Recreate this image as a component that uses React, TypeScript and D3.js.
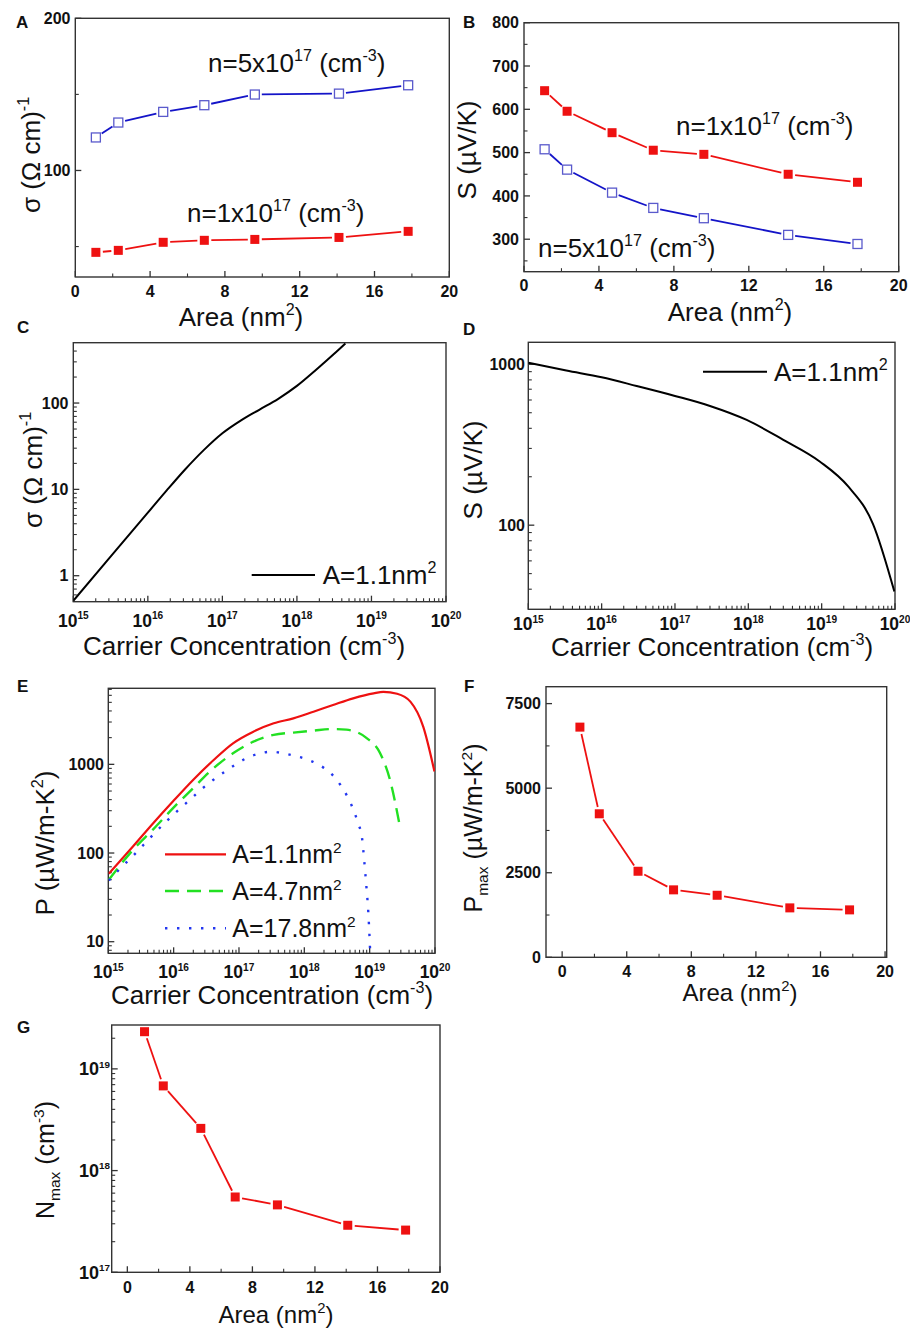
import React from "react";
import * as d3 from "d3";

// ---------- data ----------
const areas = [1.1, 2.3, 4.7, 6.9, 9.6, 14.1, 17.8];

// conductivity vs area (panel A)
const sigmaHigh = [121.7, 131.5, 138.5, 142.9, 149.9, 150.5, 156];
const sigmaLow = [46.2, 47.5, 52.8, 54.1, 54.7, 56, 60];

// Seebeck vs area (panel B)
const seebeckLow = [643, 595.5, 546, 505.5, 496, 450, 431.5];
const seebeckHigh = [507.7, 460.7, 407.6, 372.3, 348.5, 310, 289];

// conductivity vs carrier concentration, A = 1.1 nm^2 (panel C)
const sigmaCurve: [number, number][] = [
  [1e15, 0.513], [3.16e15, 1.66], [1e16, 5.37], [1.78e16, 9.66],
  [3.16e16, 17.0], [5.62e16, 28.5], [1e17, 44.7], [1.78e17, 63.1],
  [3.16e17, 84.1], [5.62e17, 112], [1e18, 158], [1.78e18, 240],
  [3.16e18, 372], [4.47e18, 490],
];

// Seebeck vs carrier concentration, A = 1.1 nm^2 (panel D)
const seebeckCurve: [number, number][] = [
  [1e15, 1023], [3.3e15, 914], [1e16, 830], [3e16, 733], [1e17, 636],
  [3e17, 551], [9.5e17, 451], [3e18, 339], [9.5e18, 248], [2.3e19, 174],
  [5e19, 102], [9.8e19, 38.7],
];

// power factor vs carrier concentration (panel E)
const powerA11: [number, number][] = [
  [1.02e15, 58.5], [2.4e15, 119], [4.9e15, 218], [9.8e15, 383], [2e16, 671],
  [4.1e16, 1120], [8.1e16, 1726], [1.66e17, 2336], [3.4e17, 2900],
  [6.8e17, 3300], [1.38e18, 3925], [2.75e18, 4667], [5.6e18, 5546],
  [1.15e19, 6310], [1.62e19, 6550], [2.63e19, 6250], [4.2e19, 5090],
  [6.6e19, 2660], [9.8e19, 832],
];
const powerA47: [number, number][] = [
  [1.02e15, 50], [2.4e15, 109], [4.9e15, 186], [9.8e15, 321], [2e16, 541],
  [4.1e16, 907], [8.1e16, 1330], [1.66e17, 1800], [3.4e17, 2150],
  [6.8e17, 2280], [1.38e18, 2400], [2.75e18, 2500], [4.4e18, 2460],
  [8.9e18, 1990], [1.44e19, 1340], [2.04e19, 674], [2.9e19, 200],
];
const powerA178: [number, number][] = [
  [1.02e15, 49], [1.51e15, 66.5], [2.29e15, 90], [3.47e15, 124], [5.13e15, 168],
  [7.76e15, 228], [1.17e16, 303], [1.78e16, 400], [2.69e16, 527],
  [4.07e16, 671], [6.17e16, 832], [9.12e16, 1009], [1.38e17, 1200],
  [2.09e17, 1331], [3.16e17, 1390], [4.79e17, 1331], [7.24e17, 1242],
  [1.1e18, 1138], [1.62e18, 1000], [2.45e18, 812], [3.55e18, 588],
  [4.68e18, 417], [5.62e18, 309], [6.76e18, 209], [7.59e18, 154],
  [8.32e18, 77], [8.91e18, 42], [9.55e18, 21], [1.0e19, 10.5], [1.02e19, 7.4],
];

// maximum power factor and optimal concentration vs area (panels F, G)
const powerMax = [6805, 4243, 2544, 1994, 1834, 1461, 1402];
const concMax = [2.32e19, 6.8e18, 2.6e18, 5.5e17, 4.6e17, 2.9e17, 2.6e17];

// tick values
const areaMajor = [0, 4, 8, 12, 16, 20];
const areaMinor = [2, 6, 10, 14, 18];
const decades = [1e15, 1e16, 1e17, 1e18, 1e19, 1e20];

// ---------- styling ----------
const FONT = "'Liberation Sans', Arial, Helvetica, sans-serif";
const AXIS = "#333";
const RED = "#ee1111";
const BLUE = "#1414c8";
const BLUE_MK = "#5a5acc";
const GREEN = "#22e022";
const DOT_BLUE = "#2236f0";

type Seg = { t: string; sup?: boolean; sub?: boolean };

function Rich(props: {
  x: number; y: number; segs: Seg[]; size: number; anchor?: string;
  weight?: string | number; rotate?: number; supScale?: number; fill?: string;
}) {
  const { x, y, segs, size, anchor = "start", weight = "normal", rotate, supScale = 0.62, fill = "#111" } = props;
  let shift = 0;
  const kids = segs.map((s, i) => {
    const target = s.sup ? -size * 0.42 : s.sub ? size * 0.22 : 0;
    const dy = target - shift;
    shift = target;
    return (
      <tspan key={i} dy={dy} fontSize={s.sup || s.sub ? size * supScale : size}>
        {s.t}
      </tspan>
    );
  });
  return (
    <text
      x={x}
      y={y}
      textAnchor={anchor as any}
      fontWeight={weight}
      fontSize={size}
      fontFamily={FONT}
      fill={fill}
      style={{ whiteSpace: "pre" }}
      transform={rotate ? `rotate(${rotate} ${x} ${y})` : undefined}
    >
      {kids}
    </text>
  );
}

const expLabel = (v: number): Seg[] => [{ t: "10" }, { t: String(Math.round(Math.log10(v))), sup: true }];
const numLabel = (v: number): Seg[] => [{ t: String(v) }];

function logMinors(lo: number, hi: number) {
  const out: number[] = [];
  for (let e = Math.floor(Math.log10(lo)); e <= Math.ceil(Math.log10(hi)); e++) {
    for (let k = 2; k <= 9; k++) {
      const v = k * Math.pow(10, e);
      if (v > lo * 1.0001 && v < hi * 0.9999) out.push(v);
    }
  }
  return out;
}

type Scale = (v: number) => number;

function Frame(props: {
  x: Scale; y: Scale;
  box: [number, number, number, number]; // x0, x1, y0, y1
  xMajor: number[]; xMinor: number[]; xLabel: (v: number) => Seg[]; xLabelY: number; xSize?: number;
  yMajor: number[]; yMinor: number[]; yLabel: (v: number) => Seg[]; yLabelX: number; ySize?: number;
}) {
  const { x, y, box, xMajor, xMinor, xLabel, xLabelY, yMajor, yMinor, yLabel, yLabelX } = props;
  const xSize = props.xSize ?? 16;
  const ySize = props.ySize ?? 16;
  const [x0, x1, y0, y1] = box;
  return (
    <g>
      <rect x={x0} y={y0} width={x1 - x0} height={y1 - y0} fill="none" stroke={AXIS} strokeWidth={1.4} />
      {xMajor.map((v, i) => (
        <line key={"xM" + i} x1={x(v)} x2={x(v)} y1={y1} y2={y1 - 6} stroke={AXIS} strokeWidth={1.3} />
      ))}
      {xMinor.map((v, i) => (
        <line key={"xm" + i} x1={x(v)} x2={x(v)} y1={y1} y2={y1 - 3.5} stroke={AXIS} strokeWidth={1.1} />
      ))}
      {yMajor.map((v, i) => (
        <line key={"yM" + i} x1={x0} x2={x0 + 6} y1={y(v)} y2={y(v)} stroke={AXIS} strokeWidth={1.3} />
      ))}
      {yMinor.map((v, i) => (
        <line key={"ym" + i} x1={x0} x2={x0 + 3.5} y1={y(v)} y2={y(v)} stroke={AXIS} strokeWidth={1.1} />
      ))}
      {xMajor.map((v, i) => (
        <Rich key={"xl" + i} x={x(v)} y={xLabelY} segs={xLabel(v)} size={xSize} weight="bold" anchor="middle" supScale={0.58} />
      ))}
      {yMajor.map((v, i) => (
        <Rich key={"yl" + i} x={yLabelX} y={y(v) + ySize * 0.35} segs={yLabel(v)} size={ySize} weight="bold" anchor="end" supScale={0.55} />
      ))}
    </g>
  );
}

function gapped(pts: [number, number][], gap: number) {
  const segs: [number, number, number, number][] = [];
  for (let i = 1; i < pts.length; i++) {
    const a = pts[i - 1], b = pts[i];
    const dx = b[0] - a[0], dy = b[1] - a[1];
    const L = Math.hypot(dx, dy);
    if (L <= 2 * gap) continue;
    const ux = dx / L, uy = dy / L;
    segs.push([a[0] + ux * gap, a[1] + uy * gap, b[0] - ux * gap, b[1] - uy * gap]);
  }
  return segs;
}

function MarkerSeries(props: { x: Scale; y: Scale; xs: number[]; ys: number[]; color: string; hollow?: boolean }) {
  const { x, y, xs, ys, color, hollow } = props;
  const pts = xs.map((v, i) => [x(v), y(ys[i])] as [number, number]);
  const s = 9;
  return (
    <g>
      {gapped(pts, 7).map((g, i) => (
        <line key={i} x1={g[0]} y1={g[1]} x2={g[2]} y2={g[3]} stroke={color} strokeWidth={1.8} />
      ))}
      {pts.map((p, i) =>
        hollow ? (
          <rect key={"m" + i} x={p[0] - s / 2} y={p[1] - s / 2} width={s} height={s} fill="#fff" stroke={BLUE_MK} strokeWidth={1.3} />
        ) : (
          <rect key={"m" + i} x={p[0] - s / 2} y={p[1] - s / 2} width={s} height={s} fill={color} />
        )
      )}
    </g>
  );
}

function Curve(props: { x: Scale; y: Scale; data: [number, number][]; color: string; width?: number; dash?: string; clip: string }) {
  const { x, y, data, color, width = 2, dash, clip } = props;
  const path = d3
    .line<[number, number]>()
    .x((d) => x(d[0]))
    .y((d) => y(d[1]))
    .curve(d3.curveMonotoneX)(data);
  return <path d={path ?? ""} fill="none" stroke={color} strokeWidth={width} strokeDasharray={dash} clipPath={`url(#${clip})`} />;
}

function Letter({ x, y, t }: { x: number; y: number; t: string }) {
  return (
    <text x={x} y={y} fontFamily={FONT} fontWeight="bold" fontSize={17} fill="#111">
      {t}
    </text>
  );
}

const sigmaTitle: Seg[] = [{ t: "σ (Ω cm)" }, { t: "-1", sup: true }];
const seebeckTitle: Seg[] = [{ t: "S (µV/K)" }];
const areaTitle: Seg[] = [{ t: "Area (nm" }, { t: "2", sup: true }, { t: ")" }];
const concTitle: Seg[] = [{ t: "Carrier Concentration (cm" }, { t: "-3", sup: true }, { t: ")" }];
const nLabel = (m: string): Seg[] => [{ t: `n=${m}x10` }, { t: "17", sup: true }, { t: " (cm" }, { t: "-3", sup: true }, { t: ")" }];
const aLabel = (a: string): Seg[] => [{ t: `A=${a}nm` }, { t: "2", sup: true }];

export default function App() {
  // ---- panel A ----
  const boxA: [number, number, number, number] = [75.3, 449.3, 18.3, 277];
  const xA = d3.scaleLinear().domain([0, 20]).range([boxA[0], boxA[1]]);
  const yA = d3.scaleLinear().domain([30, 200]).range([boxA[3], boxA[2]]);

  // ---- panel B ----
  const boxB: [number, number, number, number] = [524, 898.7, 22.7, 271.7];
  const xB = d3.scaleLinear().domain([0, 20]).range([boxB[0], boxB[1]]);
  const yB = d3.scaleLinear().domain([225, 800]).range([boxB[3], boxB[2]]);

  // ---- panel C ----
  const boxC: [number, number, number, number] = [73.3, 446, 342.7, 601.7];
  const xC = d3.scaleLog().domain([1e15, 1e20]).range([boxC[0], boxC[1]]);
  const yC = d3.scaleLog().domain([0.5, 500]).range([boxC[3], boxC[2]]);

  // ---- panel D ----
  const boxD: [number, number, number, number] = [528.3, 895, 342.3, 609.3];
  const xD = d3.scaleLog().domain([1e15, 1e20]).range([boxD[0], boxD[1]]);
  const yD = d3.scaleLog().domain([30, 1370]).range([boxD[3], boxD[2]]);

  // ---- panel E ----
  const boxE: [number, number, number, number] = [108.3, 435, 688.3, 953.3];
  const xE = d3.scaleLog().domain([1e15, 1e20]).range([boxE[0], boxE[1]]);
  const yE = d3.scaleLog().domain([7.4, 7200]).range([boxE[3], boxE[2]]);

  // ---- panel F ----
  const boxF: [number, number, number, number] = [546, 886.7, 686.7, 957.3];
  const xF = d3.scaleLinear().domain([-1, 20.1]).range([boxF[0], boxF[1]]);
  const yF = d3.scaleLinear().domain([0, 8000]).range([boxF[3], boxF[2]]);

  // ---- panel G ----
  const boxG: [number, number, number, number] = [111.7, 440, 1025, 1272.3];
  const xG = d3.scaleLinear().domain([-1, 20]).range([boxG[0], boxG[1]]);
  const yG = d3.scaleLog().domain([1e17, 2.7e19]).range([boxG[3], boxG[2]]);

  const clipRect = (id: string, b: [number, number, number, number]) => (
    <clipPath id={id} key={id}>
      <rect x={b[0]} y={b[2]} width={b[1] - b[0]} height={b[3] - b[2]} />
    </clipPath>
  );

  const xDecMinor = logMinors(1e15, 1e20);

  return (
    <svg width={910} height={1334} style={{ position: "absolute", left: 0, top: 0, background: "#fff" }}>
      <defs>
        {clipRect("clipC", boxC)}
        {clipRect("clipD", boxD)}
        {clipRect("clipE", boxE)}
      </defs>
      <rect x={0} y={0} width={910} height={1334} fill="#fff" />

      {/* A: conductivity vs area */}
      <Letter x={16} y={28} t="A" />
      <Frame x={xA} y={yA} box={boxA}
        xMajor={areaMajor} xMinor={areaMinor} xLabel={numLabel} xLabelY={296.5}
        yMajor={[100, 200]} yMinor={[50, 150]} yLabel={numLabel} yLabelX={70.5} />
      <MarkerSeries x={xA} y={yA} xs={areas} ys={sigmaHigh} color={BLUE} hollow />
      <MarkerSeries x={xA} y={yA} xs={areas} ys={sigmaLow} color={RED} />
      <Rich x={208} y={71.5} segs={nLabel("5")} size={26} />
      <Rich x={187} y={221.5} segs={nLabel("1")} size={26} />
      <Rich x={40} y={155} segs={sigmaTitle} size={26} anchor="middle" rotate={-90} />
      <Rich x={241} y={326} segs={areaTitle} size={26} anchor="middle" />

      {/* B: Seebeck vs area */}
      <Letter x={463} y={28} t="B" />
      <Frame x={xB} y={yB} box={boxB}
        xMajor={areaMajor} xMinor={areaMinor} xLabel={numLabel} xLabelY={291}
        yMajor={[300, 400, 500, 600, 700, 800]} yMinor={[250, 350, 450, 550, 650, 750]} yLabel={numLabel} yLabelX={519} />
      <MarkerSeries x={xB} y={yB} xs={areas} ys={seebeckLow} color={RED} />
      <MarkerSeries x={xB} y={yB} xs={areas} ys={seebeckHigh} color={BLUE} hollow />
      <Rich x={676} y={135} segs={nLabel("1")} size={26} />
      <Rich x={538} y={256.5} segs={nLabel("5")} size={26} />
      <Rich x={476} y={150} segs={seebeckTitle} size={26} anchor="middle" rotate={-90} />
      <Rich x={730} y={321} segs={areaTitle} size={26} anchor="middle" />

      {/* C: conductivity vs concentration */}
      <Letter x={17} y={333} t="C" />
      <Frame x={xC} y={yC} box={boxC}
        xMajor={decades} xMinor={xDecMinor} xLabel={expLabel} xLabelY={626.5} xSize={17.5}
        yMajor={[1, 10, 100]} yMinor={logMinors(0.5, 500)} yLabel={numLabel} yLabelX={68.5} />
      <Curve x={xC} y={yC} data={sigmaCurve} color="#000" clip="clipC" />
      <line x1={251.7} x2={315} y1={575} y2={575} stroke="#000" strokeWidth={2} />
      <Rich x={322.7} y={583.5} segs={aLabel("1.1")} size={26} />
      <Rich x={42} y={470} segs={sigmaTitle} size={26} anchor="middle" rotate={-90} />
      <Rich x={244} y={655} segs={concTitle} size={26} anchor="middle" />

      {/* D: Seebeck vs concentration */}
      <Letter x={463} y={335} t="D" />
      <Frame x={xD} y={yD} box={boxD}
        xMajor={decades} xMinor={xDecMinor} xLabel={expLabel} xLabelY={630} xSize={17.5}
        yMajor={[100, 1000]} yMinor={logMinors(30, 1370)} yLabel={numLabel} yLabelX={525} />
      <Curve x={xD} y={yD} data={seebeckCurve} color="#000" clip="clipD" />
      <line x1={703} x2={767} y1={371.7} y2={371.7} stroke="#000" strokeWidth={2} />
      <Rich x={774} y={380.5} segs={aLabel("1.1")} size={26} />
      <Rich x={482} y={470} segs={seebeckTitle} size={26} anchor="middle" rotate={-90} />
      <Rich x={712} y={656} segs={concTitle} size={26} anchor="middle" />

      {/* E: power factor vs concentration */}
      <Letter x={17} y={692} t="E" />
      <Frame x={xE} y={yE} box={boxE}
        xMajor={decades} xMinor={xDecMinor} xLabel={expLabel} xLabelY={978} xSize={17.5}
        yMajor={[10, 100, 1000]} yMinor={logMinors(7.4, 7200)} yLabel={numLabel} yLabelX={104} />
      <Curve x={xE} y={yE} data={powerA11} color={RED} width={2.2} clip="clipE" />
      <Curve x={xE} y={yE} data={powerA47} color={GREEN} width={2.4} dash="14 8" clip="clipE" />
      <Curve x={xE} y={yE} data={powerA178} color={DOT_BLUE} width={2.4} dash="2.4 9.6" clip="clipE" />
      <line x1={165} x2={226} y1={854.3} y2={854.3} stroke={RED} strokeWidth={2.2} />
      <line x1={165} x2={226} y1={891} y2={891} stroke={GREEN} strokeWidth={2.4} strokeDasharray="14 8" />
      <line x1={165} x2={226} y1={928.3} y2={928.3} stroke={DOT_BLUE} strokeWidth={2.4} strokeDasharray="2.4 9.6" />
      <Rich x={232.3} y={863} segs={aLabel("1.1")} size={25} />
      <Rich x={232.3} y={900} segs={aLabel("4.7")} size={25} />
      <Rich x={232.3} y={937} segs={aLabel("17.8")} size={25} />
      <Rich x={54} y={843} segs={[{ t: "P (µW/m-K" }, { t: "2", sup: true }, { t: ")" }]} size={26} anchor="middle" rotate={-90} />
      <Rich x={272} y={1004} segs={concTitle} size={26} anchor="middle" />

      {/* F: maximum power factor vs area */}
      <Letter x={464} y={692} t="F" />
      <Frame x={xF} y={yF} box={boxF}
        xMajor={areaMajor} xMinor={areaMinor} xLabel={numLabel} xLabelY={977}
        yMajor={[0, 2500, 5000, 7500]} yMinor={[1250, 3750, 6250]} yLabel={numLabel} yLabelX={541} />
      <MarkerSeries x={xF} y={yF} xs={areas} ys={powerMax} color={RED} />
      <Rich x={482} y={828} segs={[{ t: "P" }, { t: "max", sub: true }, { t: " (µW/m-K" }, { t: "2", sup: true }, { t: ")" }]} size={25} anchor="middle" rotate={-90} />
      <Rich x={740} y={1001} segs={areaTitle} size={24} anchor="middle" />

      {/* G: optimal concentration vs area */}
      <Letter x={17} y={1033} t="G" />
      <Frame x={xG} y={yG} box={boxG}
        xMajor={areaMajor} xMinor={areaMinor} xLabel={numLabel} xLabelY={1293}
        yMajor={[1e17, 1e18, 1e19]} yMinor={logMinors(1e17, 2.7e19)} yLabel={expLabel} yLabelX={110} ySize={18} />
      <MarkerSeries x={xG} y={yG} xs={areas} ys={concMax} color={RED} />
      <Rich x={54} y={1160} segs={[{ t: "N" }, { t: "max", sub: true }, { t: " (cm" }, { t: "-3", sup: true }, { t: ")" }]} size={25} anchor="middle" rotate={-90} />
      <Rich x={276} y={1323} segs={areaTitle} size={24} anchor="middle" />
    </svg>
  );
}
